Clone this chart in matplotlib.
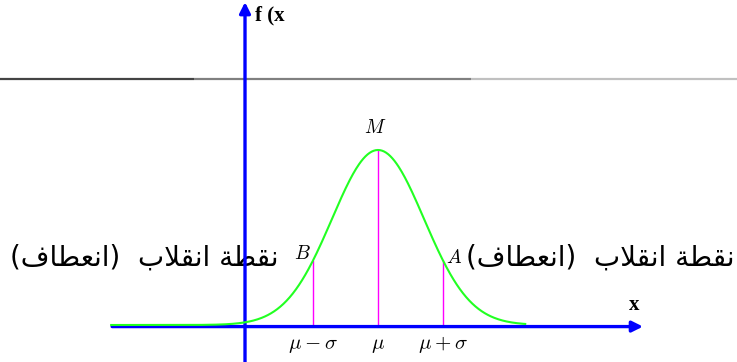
import numpy as np
import matplotlib.pyplot as plt

plt.rcParams['mathtext.fontset'] = 'cm'

# bell curve parameters (height normalised to 1 at the mean)
mu = 0.0
sd = 1.0
curve_from, curve_to = -5.8, 3.2

# marked abscissas and their labels
marks_x = [-1.413, 0.0, 1.413]
tick_labels = [r'$\mu-\sigma$', r'$\mu$', r'$\mu+\sigma$']
point_labels = ['B', 'M', 'A']

# arabic caption, written in visual (left to right) order with presentation forms
caption = '(\ufed1\ufe8e\ufec4\ufecc\ufee7\ufe8d)  \ufe8f\ufefc\ufed8\ufee7\ufe8d \ufe94\ufec4\ufed8\ufee7'

# grey rule segments across the top
rule_edges = [-8.217, -4.0, 2.02, 7.804]
rule_colors = ['#444444', '#808080', '#c0c0c0']


def bell(x):
    return np.exp(-(x - mu) ** 2 / (2 * sd ** 2))


fig = plt.figure(figsize=(7.37, 3.62), dpi=100)
ax = fig.add_axes([0, 0, 1, 1])
ax.set_xlim(-8.217, 7.804)
ax.set_ylim(-0.2114, 1.857)
ax.axis('off')

# grey rule
for i in range(len(rule_colors)):
    ax.plot(rule_edges[i:i + 2], [1.406, 1.406], color=rule_colors[i], lw=1.6, zorder=1,
            solid_capstyle='butt')

# axes with arrow heads
ax.annotate('', xy=(5.76, -0.009), xytext=(-5.78, -0.009),
            arrowprops=dict(arrowstyle='-|>', color='blue', lw=2.4, mutation_scale=16,
                            shrinkA=0, shrinkB=0), zorder=4)
ax.annotate('', xy=(-2.891, 1.845), xytext=(-2.891, -0.2114),
            arrowprops=dict(arrowstyle='-|>', color='blue', lw=2.4, mutation_scale=16,
                            shrinkA=0, shrinkB=0), zorder=4)

# the curve
xs = np.linspace(curve_from, curve_to, 400)
ax.plot(xs, bell(xs), color='#22ff22', lw=1.5, zorder=5)

# vertical marks from the axis to the curve
for xm in marks_x:
    ax.plot([xm, xm], [0, bell(xm)], color='magenta', lw=1.0, zorder=3)

for xm, lab in zip(marks_x, tick_labels):
    ax.text(xm, -0.114, lab, ha='center', va='center', fontsize=15)

# point names
ax.text(marks_x[0] - 0.24, bell(marks_x[0]) + 0.04, '$' + point_labels[0] + '$',
        ha='center', va='center', fontsize=14)
ax.text(marks_x[1] - 0.065, 1.126, '$' + point_labels[1] + '$',
        ha='center', va='center', fontsize=14)
ax.text(marks_x[2] + 0.24, bell(marks_x[2]) + 0.02, '$' + point_labels[2] + '$',
        ha='center', va='center', fontsize=14)

# axis names
ax.text(-2.67, 1.771, 'f (x', ha='left', va='center', fontsize=15,
        family='Liberation Serif', fontweight='bold')
ax.text(5.565, 0.114, 'x', ha='center', va='center', fontsize=15,
        family='Liberation Serif', fontweight='bold')

# inflection point captions
ax.text(-8.0, 0.383, caption, ha='left', va='center', fontsize=20,
        family='DejaVu Sans', zorder=2)
ax.text(7.76, 0.383, caption, ha='right', va='center', fontsize=20,
        family='DejaVu Sans', zorder=2)

fig.savefig('out.png', dpi=100)
